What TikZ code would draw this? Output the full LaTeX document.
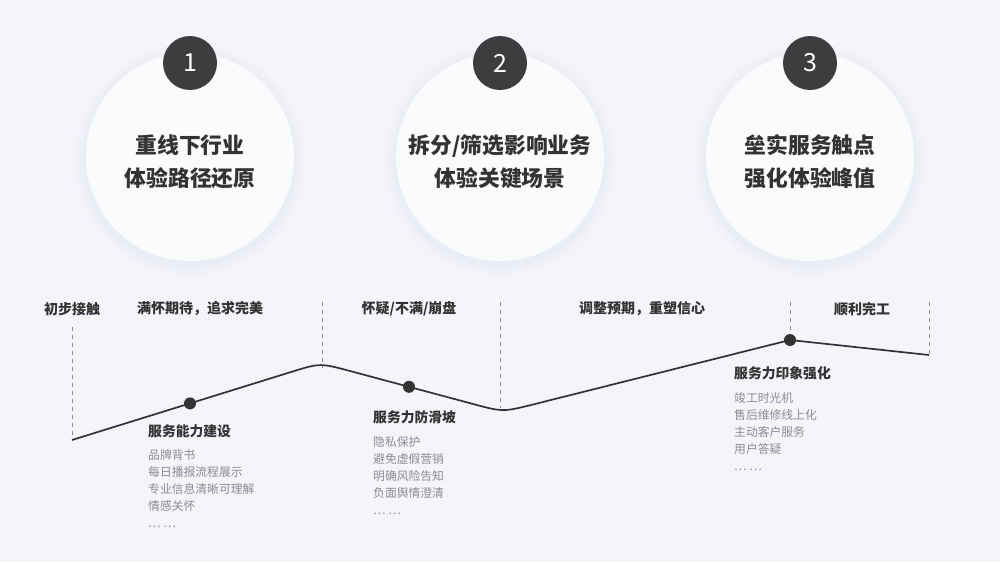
\documentclass[tikz,border=0pt]{standalone}
\usepackage{fontspec}
\setmainfont{Noto Sans CJK SC}
\definecolor{bgc}{HTML}{F4F5FA}
\definecolor{cfill}{HTML}{FAFBFD}
\definecolor{shc}{HTML}{CDD3E3}
\definecolor{badgec}{HTML}{3D3D3F}
\definecolor{txt}{HTML}{333333}
\definecolor{sub}{HTML}{8C8C8C}
\definecolor{dashc}{HTML}{8A8A8A}
\definecolor{curvec}{HTML}{333333}
\tikzset{
  bigcircle/.style={circle,fill=cfill,minimum size=208pt,inner sep=0pt},
  badge/.style={circle,fill=badgec,minimum size=54pt,inner sep=0pt,text=white,font=\fontsize{25pt}{25pt}\selectfont},
  circletext/.style={align=center,text=txt,font=\fontsize{21.8pt}{33pt}\selectfont\bfseries},
  stagelabel/.style={text=txt,font=\fontsize{14pt}{16pt}\selectfont\bfseries,inner sep=0pt},
  headlabel/.style={anchor=west,text=txt,font=\fontsize{13.8pt}{16pt}\selectfont\bfseries,inner sep=0pt},
  itemlist/.style={anchor=north west,align=left,text=sub,font=\fontsize{11.8pt}{17pt}\selectfont,inner sep=0pt},
  guide/.style={draw=dashc,line width=0.7pt,dash pattern=on 4pt off 4pt},
  journey/.style={draw=curvec,line width=1.7pt,line join=round},
  dotmark/.style={circle,fill=curvec,minimum size=12pt,inner sep=0pt}
}
\begin{document}
\begin{tikzpicture}[x=1pt,y=-1pt]
\fill[bgc] (0,0) rectangle (1000,562);
\useasboundingbox (0,0) rectangle (1000,562);

% soft shadows
\foreach \cx in {190,500,810}{
  \foreach \r in {116,113,110,108,106}{
    \fill[shc,opacity=0.035] (\cx,160) circle[radius=\r];
  }
}
\node[bigcircle] (c1) at (190,157) {};
\node[bigcircle] (c2) at (500,157) {};
\node[bigcircle] (c3) at (810,157) {};
\node[badge] (b1) at (190,63) {1};
\node[badge] (b2) at (500,63) {2};
\node[badge] (b3) at (810,63) {3};
\node[circletext] (t1) at (190,162) {重线下行业\\体验路径还原};
\node[circletext] (t2) at (500,162) {拆分/筛选影响业务\\体验关键场景};
\node[circletext] (t3) at (810,162) {垒实服务触点\\强化体验峰值};

% stage labels
\node[stagelabel] (s1) at (72,309) {初步接触};
\node[stagelabel] (s2) at (200,309) {满怀期待，追求完美};
\node[stagelabel] (s3) at (409,309) {怀疑/不满/崩盘};
\node[stagelabel] (s4) at (642,309) {调整预期，重塑信心};
\node[stagelabel] (s5) at (862,309) {顺利完工};

% curve coordinates
\coordinate (A) at (72,440);
\coordinate (B) at (292,371.7);
\coordinate (C) at (350,371);
\coordinate (D) at (475,404.5);
\coordinate (F) at (535,404);
\coordinate (Q) at (790,340);
\coordinate (E) at (929,355);
\coordinate (pk) at (322,367.5);
\coordinate (vl) at (500,408);

% dashed guides
\coordinate (g1) at (72,327);
\coordinate (g2) at (322,302);
\coordinate (g3) at (500,302);
\coordinate (g4) at (790,302);
\coordinate (g5) at (929,302);
\draw[guide] (g1) -- (A);
\draw[guide] (g2) -- (pk);
\draw[guide] (g3) -- (vl);
\draw[guide] (g4) -- (Q);
\draw[guide] (g5) -- (E);

% journey curve
\draw[journey] (A) -- (B) .. controls (320,363) .. (C) -- (D) .. controls (503,412) .. (F) -- (Q) -- (E);

\node[dotmark] (d1) at (190,403.4) {};
\node[dotmark] (d2) at (409,386.8) {};
\node[dotmark] (d3) at (Q) {};

% touchpoint groups
\node[headlabel] (h1) at (148,431) {服务能力建设};
\node[itemlist] (i1) at (148,449) {品牌背书\\每日播报流程展示\\专业信息清晰可理解\\情感关怀\\… …};
\node[headlabel] (h2) at (373,417) {服务力防滑坡};
\node[itemlist] (i2) at (373,436) {隐私保护\\避免虚假营销\\明确风险告知\\负面舆情澄清\\… …};
\node[headlabel] (h3) at (734,373) {服务力印象强化};
\node[itemlist] (i3) at (734,392) {竣工时光机\\售后维修线上化\\主动客户服务\\用户答疑\\… …};
\end{tikzpicture}
\end{document}
